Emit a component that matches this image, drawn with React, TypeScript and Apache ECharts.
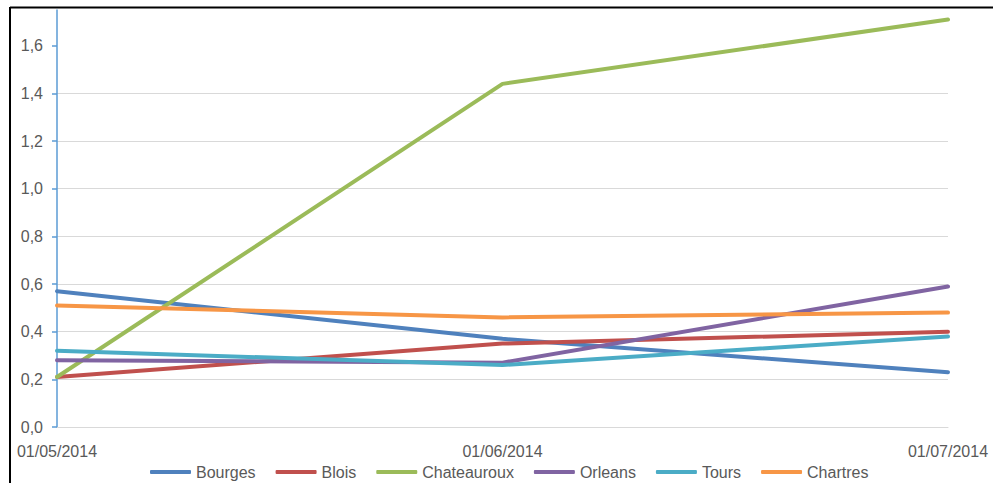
import React, { useEffect, useRef } from "react";
import * as echarts from "echarts";

const categories = ["01/05/2014", "01/06/2014", "01/07/2014"];
const seriesNames = ["Bourges", "Blois", "Chateauroux", "Orleans", "Tours", "Chartres"];
const bourges = [0.57, 0.37, 0.23];
const blois = [0.21, 0.35, 0.4];
const chateauroux = [0.21, 1.44, 1.71];
const orleans = [0.28, 0.27, 0.59];
const tours = [0.32, 0.26, 0.38];
const chartres = [0.51, 0.46, 0.48];
const yTicks = [0, 0.2, 0.4, 0.6, 0.8, 1.0, 1.2, 1.4, 1.6];
const colors = ["#4F81BD", "#C0504D", "#9BBB59", "#8064A2", "#4BACC6", "#F79646"];

export default function App() {
  const ref = useRef<HTMLDivElement>(null);
  useEffect(() => {
    document.body.style.margin = "0";
    const chart = echarts.init(ref.current!, null, { renderer: "svg" });
    const values = [bourges, blois, chateauroux, orleans, tours, chartres];
    const font = "Liberation Sans";
    chart.setOption({
      animation: false,
      backgroundColor: "#ffffff",
      color: colors,
      grid: { left: 57, right: 45, top: 10, bottom: 56, containLabel: false },
      legend: {
        left: 145,
        top: 459,
        itemWidth: 41,
        itemHeight: 4,
        itemGap: 20,
        icon: "roundRect",
        textStyle: { fontFamily: font, fontSize: 16, color: "#595959" },
        data: seriesNames,
      },
      xAxis: {
        type: "category",
        data: categories,
        boundaryGap: false,
        axisLine: { lineStyle: { color: "#D9D9D9", width: 1 } },
        axisTick: { show: false },
        axisLabel: { fontFamily: font, fontSize: 16, color: "#595959", margin: 16, interval: 0 },
        splitLine: { show: false },
      },
      yAxis: {
        type: "value",
        min: 0,
        max: 1.75,
        interval: 0.2,
        axisLine: { show: true, lineStyle: { color: "#5B9BD5", width: 1.5 } },
        axisTick: { show: true, length: 5, customValues: yTicks, lineStyle: { color: "#5B9BD5", width: 1.5 } },
        axisLabel: {
          fontFamily: font,
          fontSize: 16,
          color: "#595959",
          margin: 14,
          customValues: yTicks,
          formatter: (v: number) => v.toFixed(1).replace(".", ","),
        },
        splitLine: { show: true, showMaxLine: false, lineStyle: { color: "#D9D9D9", width: 1 } },
      },
      series: seriesNames.map((n, i) => ({
        name: n,
        type: "line",
        data: values[i],
        symbol: "none",
        lineStyle: { width: 4, color: colors[i], cap: "round", join: "round" },
        itemStyle: { color: colors[i] },
      })),
      graphic: [
        { type: "line", shape: { x1: 10, y1: 7.5, x2: 993, y2: 7.5 }, style: { stroke: "#000", lineWidth: 2 }, z: 100 },
        { type: "line", shape: { x1: 10, y1: 7, x2: 10, y2: 483 }, style: { stroke: "#000", lineWidth: 2 }, z: 100 },
      ],
    });
    return () => chart.dispose();
  }, []);
  return <div ref={ref} style={{ position: "absolute", left: 0, top: 0, width: 993, height: 483 }} />;
}
